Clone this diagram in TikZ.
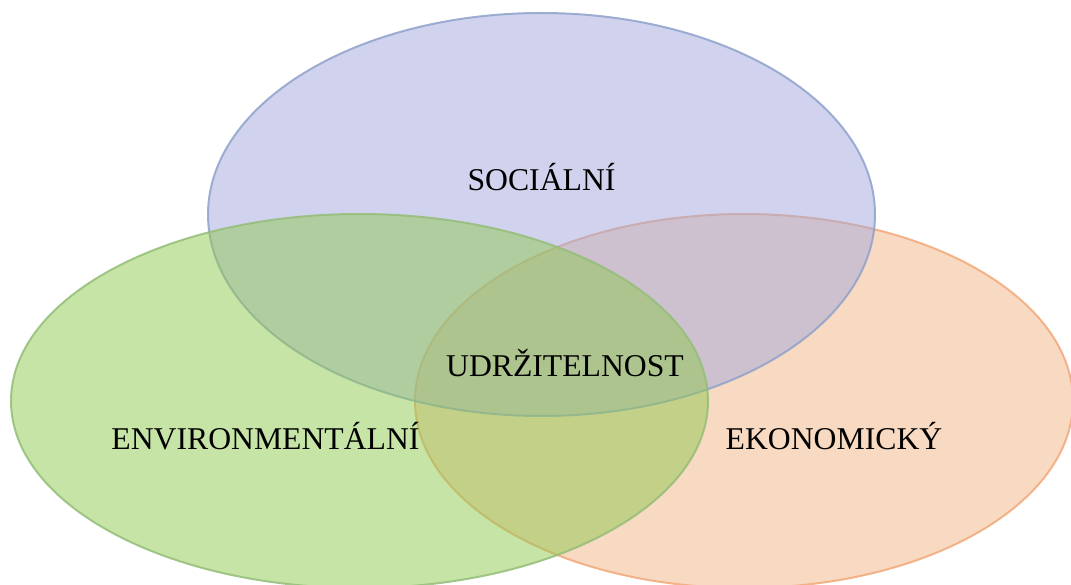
\documentclass[tikz,border=0pt]{standalone}
\usepackage{fontspec}
\setmainfont{Liberation Serif}
\definecolor{socfill}{HTML}{A3A7DD}
\definecolor{socline}{HTML}{8FA2CB}
\definecolor{envfill}{HTML}{8FC94F}
\definecolor{envline}{HTML}{94BE78}
\definecolor{ekofill}{HTML}{F1B383}
\definecolor{ekoline}{HTML}{F1A97A}
\tikzset{
  set/.style={line width=2pt, fill opacity=0.5, draw opacity=0.85},
  setlabel/.style={font=\fontsize{31.7}{36}\selectfont, text=black}
}
\begin{document}
\begin{tikzpicture}[x=1pt,y=-1pt]
\useasboundingbox (0,0) rectangle (1071,585);
\draw[set, draw=ekoline, fill=ekofill] (744,401) ellipse (329 and 187);
\draw[set, draw=socline, fill=socfill] (541.5,214.5) ellipse (333.5 and 201.5);
\draw[set, draw=envline, fill=envfill] (359.5,401) ellipse (348.5 and 187);
\node[setlabel] (soc) at(541.5,177) {SOCIÁLNÍ};
\node[setlabel] (udr) at(565,363) {UDRŽITELNOST};
\node[setlabel] (env) at(265.5,436) {ENVIRONMENTÁLNÍ};
\node[setlabel] (eko) at(834,436) {EKONOMICKÝ};
\end{tikzpicture}
\end{document}
